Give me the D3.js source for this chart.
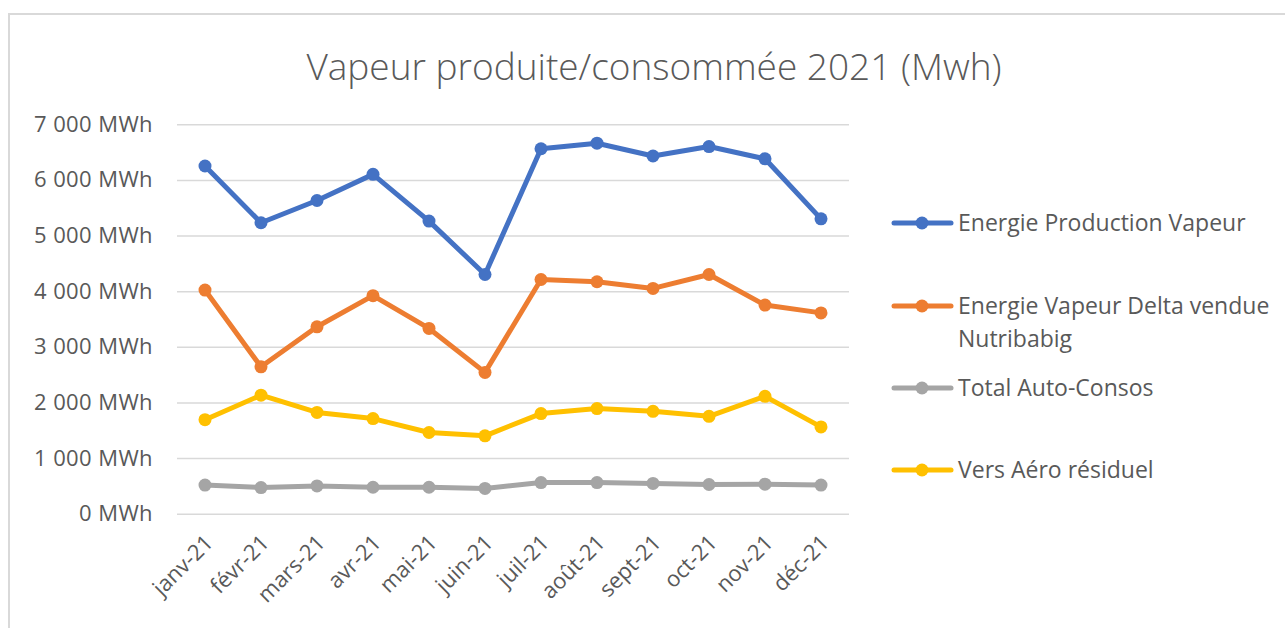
<!DOCTYPE html>
<html>
<head>
<meta charset="utf-8">
<script src="https://cdn.jsdelivr.net/npm/d3@7"></script>
<style>
    body { margin: 0; background: #fff; }
    text { font-family: "Open Sans", "Noto Sans", sans-serif; fill: #595959; }
</style>
</head>
<body>
<div id="chart"></div>
<script>
var months = ['janv-21','févr-21','mars-21','avr-21','mai-21','juin-21','juil-21','août-21','sept-21','oct-21','nov-21','déc-21'];
var production = [6250,5230,5630,6100,5260,4300,6560,6660,6430,6600,6380,5300];
var deltaVendue = [4020,2640,3360,3920,3330,2540,4210,4170,4050,4300,3750,3610];
var autoConsos = [515,470,500,475,475,455,560,560,545,525,530,515];
var aeroResiduel = [1690,2130,1820,1710,1460,1400,1800,1890,1840,1750,2110,1560];
var yTicks = [0,1000,2000,3000,4000,5000,6000,7000];

var series = [
    { name: ['Energie Production Vapeur'], values: production, color: '#4472C4' },
    { name: ['Energie Vapeur Delta vendue', 'Nutribabig'], values: deltaVendue, color: '#ED7D31' },
    { name: ['Total Auto-Consos'], values: autoConsos, color: '#A5A5A5' },
    { name: ['Vers Aéro résiduel'], values: aeroResiduel, color: '#FFC000' }
];
// drawing order: grey and yellow under, like excel's series order
var drawOrder = [series[2], series[3], series[1], series[0]];

var width = 1285, height = 628;
var svg = d3.select('#chart')
    .append('svg')
    .attr('width', width)
    .attr('height', height);

// chart frame (only top and left edges show)
svg.append('path')
    .attr('d', 'M9,' + height + 'V14H' + width)
    .attr('fill', 'none')
    .attr('stroke', '#d9d9d9')
    .attr('stroke-width', 2);

svg.append('text')
    .text('Vapeur produite/consommée 2021 (Mwh)')
    .attr('x', 654)
    .attr('y', 80)
    .attr('text-anchor', 'middle')
    .style('font-size', '37px')
    .style('font-weight', 300);

var x = d3.scaleBand()
    .domain(months)
    .range([177, 849])
    .padding(0);

var y = d3.scaleLinear()
    .domain([0, 7000])
    .range([513.7, 124.3]);

function fmt(v) {
    return d3.format(',')(v).replace(/,/g, ' ') + ' MWh';
}

var yAxis = svg.append('g')
    .attr('transform', 'translate(177,0)')
    .call(d3.axisLeft(y).tickValues(yTicks).tickSize(-(849 - 177)).tickPadding(24).tickFormat(fmt));
yAxis.select('.domain').remove();
yAxis.selectAll('.tick line')
    .attr('stroke', '#d9d9d9')
    .attr('stroke-width', 1.5);
yAxis.selectAll('.tick text')
    .style('font-size', '22px')
    .style('letter-spacing', '0.4px')
    .attr('fill', '#595959');

var xAxis = svg.append('g')
    .attr('transform', 'translate(0,513.7)')
    .call(d3.axisBottom(x).tickSize(0).tickPadding(0));
xAxis.select('.domain').remove();
xAxis.selectAll('.tick text')
    .style('font-size', '22px')
    .attr('fill', '#595959')
    .attr('text-anchor', 'end')
    .attr('dy', '0.35em')
    .attr('transform', 'translate(4,25) rotate(-45)');

var cx = function(d, i) { return x(months[i]) + x.bandwidth() / 2; };

var line = d3.line()
    .x(function(d, i) { return cx(d, i); })
    .y(function(d) { return y(d); });

var groups = svg.selectAll('.series')
    .data(drawOrder)
    .enter()
    .append('g')
    .attr('class', 'series');

groups.append('path')
    .attr('d', function(s) { return line(s.values); })
    .attr('fill', 'none')
    .attr('stroke', function(s) { return s.color; })
    .attr('stroke-width', 5)
    .attr('stroke-linejoin', 'round')
    .attr('stroke-linecap', 'round');

groups.selectAll('circle')
    .data(function(s) { return s.values.map(function(v) { return { v: v, c: s.color }; }); })
    .enter()
    .append('circle')
    .attr('cx', function(d, i) { return cx(d, i); })
    .attr('cy', function(d) { return y(d.v); })
    .attr('r', 6.5)
    .attr('fill', function(d) { return d.c; });

// legend
var legendY = [223, 306, 388, 470];
var legend = svg.selectAll('.legend')
    .data(series)
    .enter()
    .append('g')
    .attr('class', 'legend')
    .attr('transform', function(d, i) { return 'translate(892,' + legendY[i] + ')'; });

legend.append('line')
    .attr('x1', 2).attr('x2', 59)
    .attr('stroke', function(d) { return d.color; })
    .attr('stroke-width', 5)
    .attr('stroke-linecap', 'round');

legend.append('circle')
    .attr('cx', 30)
    .attr('r', 6.5)
    .attr('fill', function(d) { return d.color; });

legend.append('text')
    .attr('x', 66)
    .style('font-size', '23px')
    .selectAll('tspan')
    .data(function(d) { return d.name; })
    .enter()
    .append('tspan')
    .attr('x', 66)
    .attr('y', function(d, i) { return i * 33; })
    .attr('dy', '0.35em')
    .text(function(d) { return d; });
</script>
</body>
</html>
